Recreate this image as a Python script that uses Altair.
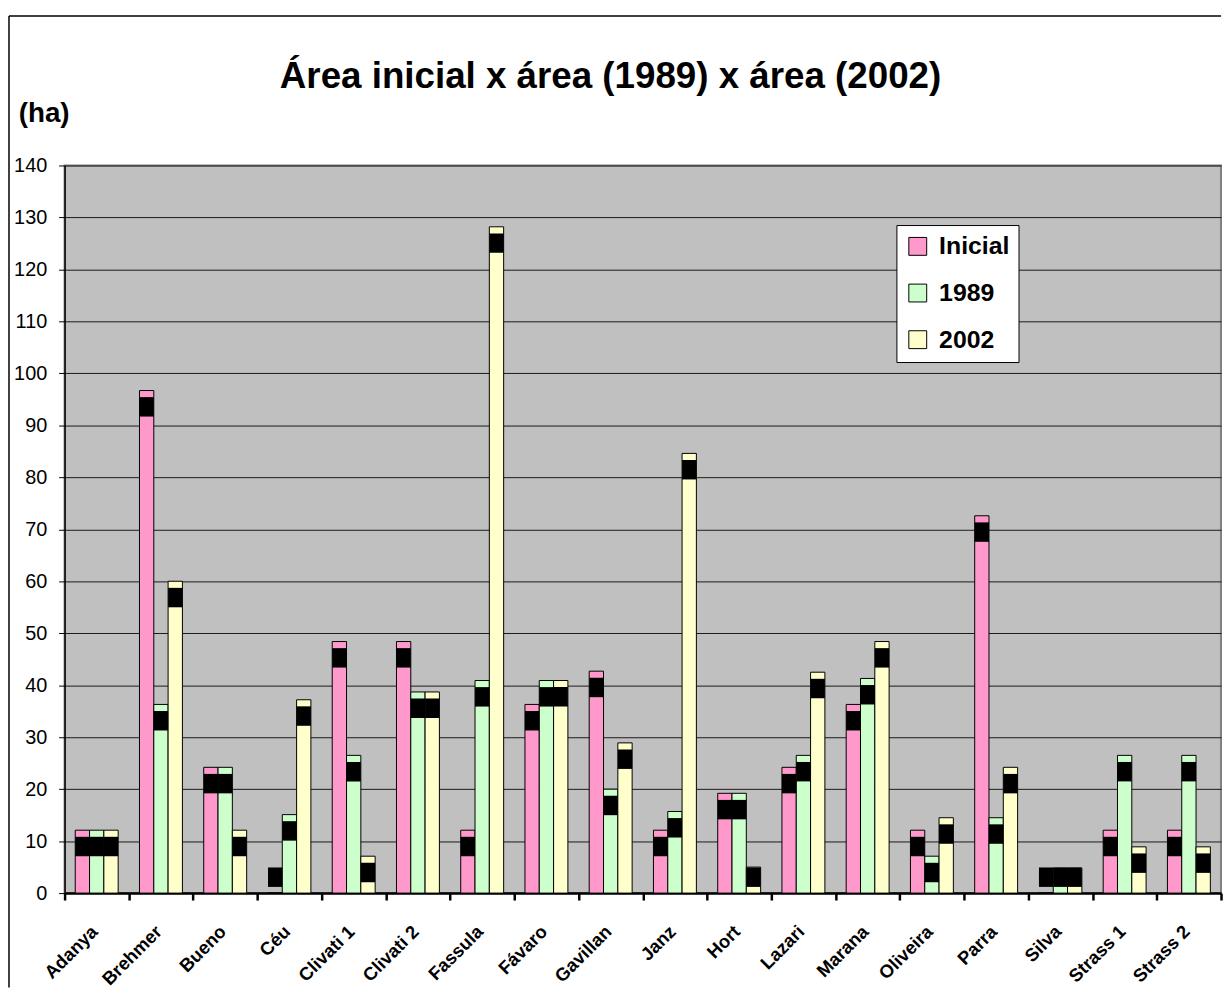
import altair as alt
import pandas as pd

# ---- data ----
categorias = ["Adanya", "Brehmer", "Bueno", "Céu", "Clivati 1", "Clivati 2", "Fassula",
              "Fávaro", "Gavillan", "Janz", "Hort", "Lazari", "Marana", "Oliveira",
              "Parra", "Silva", "Strass 1", "Strass 2"]
inicial = [12.1, 96.7, 24.2, 0.0, 48.4, 48.4, 12.1, 36.3, 42.7, 12.1, 19.2, 24.2,
           36.3, 12.1, 72.6, 0.0, 12.1, 12.1]
area_1989 = [12.1, 36.3, 24.2, 15.1, 26.5, 38.7, 40.9, 40.9, 20.0, 15.7, 19.2, 26.5,
             41.3, 7.1, 14.5, 4.8, 26.5, 26.5]
area_2002 = [12.1, 60.0, 12.1, 37.2, 7.1, 38.7, 128.2, 40.9, 28.9, 84.6, 5.0, 42.5,
             48.4, 14.5, 24.2, 4.8, 8.9, 8.9]
series = ["Inicial", "1989", "2002"]
cores = ["#FF99CC", "#CCFFCC", "#FFFFCC"]
y_ticks = list(range(0, 141, 10))
titulo = "Área inicial x área (1989) x área (2002)"
unidade = "(ha)"

FONT = "Liberation Sans"
W, H = 1165, 733

rows = []
for i, c in enumerate(categorias):
    for s, vals in zip(series, [inicial, area_1989, area_2002]):
        rows.append({"cat": c, "serie": s, "v": vals[i]})
df = pd.DataFrame(rows)
one = pd.DataFrame({"t": [titulo]})

x_enc = alt.X("cat:N", sort=categorias,
              scale=alt.Scale(paddingInner=0, paddingOuter=0),
              axis=alt.Axis(title=None, labelAngle=-45, labelFontSize=18.5,
                            labelFontWeight="bold", labelFont=FONT, labelColor="black",
                            tickBand="extent", tickSize=7, tickWidth=2.5,
                            tickColor="black", domainColor="black", domainWidth=2.5,
                            labelPadding=22, labelOffset=-9, grid=False))
xo_enc = alt.XOffset("serie:N", sort=series,
                     scale=alt.Scale(paddingInner=0, paddingOuter=0.745))
y_scale = alt.Scale(domain=[0, 140], nice=False)
y_axis = alt.Axis(values=y_ticks, title=unidade, titleAngle=0, titleAlign="left",
                  titleBaseline="alphabetic", titleX=-46.75, titleY=-44.5,
                  titleFontSize=28, titleFontWeight="bold", titleFont=FONT,
                  titleColor="black", labelFontSize=20, labelFont=FONT,
                  labelColor="black", labelPadding=12, tickSize=6, tickColor="black",
                  tickWidth=1, domainColor="black", domainWidth=1.5,
                  grid=True, gridColor="#1a1a1a", gridWidth=1)

color_enc = alt.Color("serie:N", sort=series,
                      scale=alt.Scale(domain=series, range=cores),
                      legend=alt.Legend(title=None, orient="none", legendX=838, legendY=60,
                                        fillColor="white", strokeColor="black",
                                        padding=9, symbolType="square", symbolSize=324,
                                        symbolStrokeColor="black", symbolStrokeWidth=1,
                                        labelFontSize=25, labelFontWeight="bold",
                                        labelFont=FONT, labelColor="black",
                                        rowPadding=21, labelOffset=9))

bars = alt.Chart(df).mark_bar(stroke="black", strokeWidth=1).encode(
    x=x_enc, xOffset=xo_enc,
    y=alt.Y("v:Q", scale=y_scale, axis=y_axis),
    color=color_enc,
)

# black data-label boxes, as rendered in the original (placed just below each bar top)
boxes = alt.Chart(df).transform_calculate(
    hi="max(datum.v - 1.27, 4.93)"
).transform_calculate(
    lo="datum.hi - 3.74"
).mark_bar(color="black").encode(
    x=x_enc, xOffset=xo_enc,
    y=alt.Y("lo:Q", scale=y_scale, axis=y_axis),
    y2="hi:Q",
)

frame_top = alt.Chart(one).mark_rule(color="black", strokeWidth=1.5).encode(
    x=alt.value(-56), x2=alt.value(W), y=alt.value(-150.7))
frame_left = alt.Chart(one).mark_rule(color="black", strokeWidth=1.5).encode(
    x=alt.value(-56), y=alt.value(-150.7), y2=alt.value(828))

title_txt = alt.Chart(one).mark_text(font=FONT, fontSize=37, fontWeight="bold",
                                     align="center", baseline="alphabetic",
                                     color="black").encode(
    text="t:N", x=alt.value(550), y=alt.value(-78))

chart = alt.layer(bars, boxes, frame_top, frame_left, title_txt).properties(
    width=W, height=H,
    padding={"top": 3, "left": 0, "right": 0, "bottom": 0},
    background="white",
).configure_view(
    fill="#C0C0C0", stroke="#808080", strokeWidth=2
)

chart.save("out.html", embed_options={"renderer": "svg", "actions": False})
